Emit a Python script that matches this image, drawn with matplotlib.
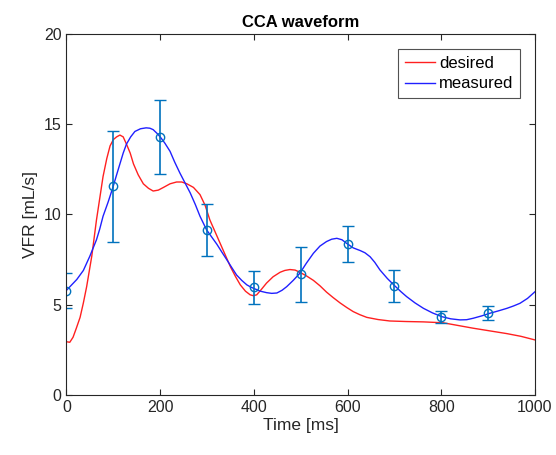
import numpy as np
import matplotlib.pyplot as plt

plt.rcParams['font.family'] = ['Liberation Sans', 'DejaVu Sans']

# desired waveform
t_desired = [0, 7, 14, 21, 29, 36, 43, 54, 64, 71, 78, 86, 93, 100, 107, 114, 121, 128,
             136, 143, 153, 164, 175, 185, 196, 207, 221, 235, 246, 257, 271, 285, 296,
             306, 317, 328, 339, 350, 361, 371, 382, 392, 399, 406, 416, 427, 441, 456,
             466, 477, 488, 498, 512, 527, 541, 555, 569, 584, 598, 612, 626, 641, 665,
             690, 725, 762, 804, 836, 868, 904, 940, 970, 1000]
v_desired = [2.95, 2.92, 3.2, 3.7, 4.3, 5.1, 6.0, 7.7, 9.7, 10.9, 12.1, 13.1, 13.8,
             14.15, 14.3, 14.4, 14.3, 13.9, 13.4, 12.8, 12.2, 11.7, 11.45, 11.3, 11.35,
             11.5, 11.7, 11.8, 11.8, 11.7, 11.5, 11.1, 10.5, 9.7, 9.05, 8.4, 7.75, 7.1,
             6.55, 6.1, 5.75, 5.55, 5.5, 5.55, 5.85, 6.2, 6.55, 6.8, 6.9, 6.95, 6.92,
             6.8, 6.6, 6.35, 6.05, 5.7, 5.4, 5.1, 4.85, 4.62, 4.45, 4.3, 4.18, 4.1,
             4.07, 4.05, 4.0, 3.85, 3.7, 3.55, 3.4, 3.25, 3.05]

# measured waveform
t_measured = [0, 11, 22, 36, 50, 64, 71, 78, 89, 99, 107, 114, 121, 128, 137, 146, 158,
              170, 178, 185, 193, 200, 210, 221, 231, 242, 253, 264, 275, 285, 299, 310,
              321, 332, 342, 353, 363, 374, 385, 394, 402, 414, 427, 438, 449, 460, 470,
              484, 498, 512, 527, 541, 555, 566, 577, 588, 598, 612, 627, 637, 648, 658,
              669, 685, 701, 714, 726, 744, 762, 781, 801, 820, 840, 854, 868, 886, 904,
              922, 940, 954, 968, 984, 1000]
v_measured = [5.8, 6.1, 6.4, 6.9, 7.7, 8.6, 9.2, 9.9, 10.7, 11.5, 12.2, 12.8, 13.4,
              13.9, 14.3, 14.6, 14.75, 14.8, 14.78, 14.7, 14.5, 14.3, 13.95, 13.5, 12.9,
              12.3, 11.75, 11.2, 10.55, 9.9, 9.15, 8.75, 8.35, 7.9, 7.5, 7.05, 6.65,
              6.35, 6.1, 5.97, 5.88, 5.75, 5.67, 5.63, 5.65, 5.8, 6.0, 6.35, 6.74, 7.3,
              7.85, 8.25, 8.5, 8.63, 8.68, 8.6, 8.4, 8.15, 8.0, 7.88, 7.66, 7.35, 6.93,
              6.45, 6.04, 5.72, 5.45, 5.1, 4.8, 4.55, 4.34, 4.22, 4.16, 4.17, 4.25,
              4.38, 4.53, 4.66, 4.8, 4.93, 5.08, 5.35, 5.72]

# sampled points with error bars
t_points = [0, 100, 200, 300, 400, 500, 600, 700, 800, 900]
v_points = [5.78, 11.56, 14.31, 9.14, 5.97, 6.69, 8.37, 6.02, 4.34, 4.53]
err_points = [0.98, 3.08, 2.04, 1.44, 0.92, 1.52, 1.01, 0.88, 0.33, 0.39]

fig = plt.figure(figsize=(5.56, 4.55), dpi=100)
ax = fig.add_axes([0.1196, 0.1319, 0.8426, 0.7934])

ax.plot(t_desired, v_desired, color='#ff2020', lw=1.0, label='desired')
ax.plot(t_measured, v_measured, color='#2020ff', lw=1.0, label='measured')
ax.errorbar(t_points, v_points, yerr=err_points, fmt='o', color='#0072BD',
            mfc='none', ms=6, capsize=4, elinewidth=1.2, mew=1.0)

ax.set_xlim(0, 1000)
ax.set_ylim(0, 20)
ax.set_xticks([0, 200, 400, 600, 800, 1000])
ax.set_yticks([0, 5, 10, 15, 20])

axcol = '#262626'
for s in ax.spines.values():
    s.set_color(axcol)
    s.set_linewidth(0.8)
ax.tick_params(direction='in', top=True, right=True, length=4, colors=axcol,
               labelsize=11.5, labelcolor=axcol)

ax.set_title('CCA waveform', fontsize=12, fontweight='bold', color='black', pad=5)
ax.set_xlabel('Time [ms]', fontsize=12.5, color=axcol, labelpad=2)
ax.set_ylabel('VFR [mL/s]', fontsize=12.5, color=axcol, labelpad=4)

leg = ax.legend(loc='upper right', fontsize=12, frameon=True, fancybox=False,
                edgecolor=axcol, handlelength=1.8, handletextpad=0.25,
                borderaxespad=0.9, borderpad=0.4, labelspacing=0.35)
leg.get_frame().set_linewidth(0.8)

fig.savefig('out.png', dpi=100)
